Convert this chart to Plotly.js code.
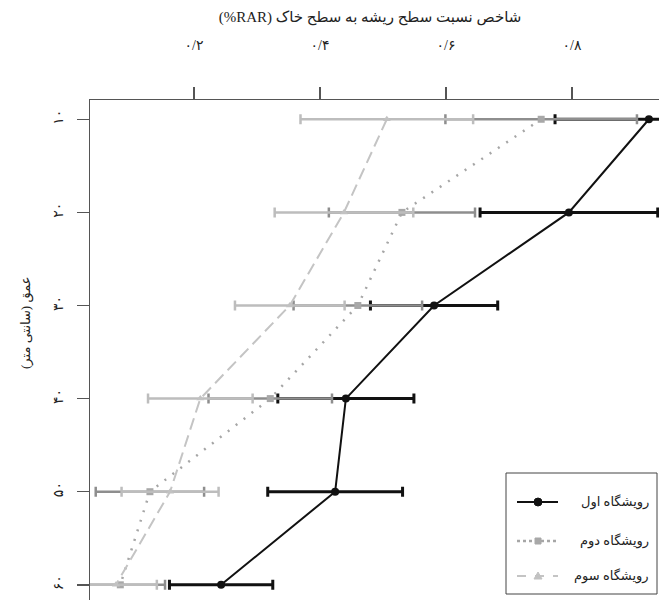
<!DOCTYPE html>
<html>
<head>
<meta charset="utf-8">
<script src="https://cdn.plot.ly/plotly-3.0.1.min.js"></script>
<style>html,body{margin:0;padding:0;background:#fff;overflow:hidden}</style>
</head>
<body>
<div id="chart" style="width:659px;height:600px"></div>
<script>
// depth (cm) and RAR values
const depths = [10, 20, 30, 40, 50, 60];
const depthLabels = ['۱۰', '۲۰', '۳۰', '۴۰', '۵۰', '۶۰'];
const xTicks = [0.2, 0.4, 0.6, 0.8];
const xTickLabels = ['۰/۲', '۰/۴', '۰/۶', '۰/۸'];
const siteNames = ['رویشگاه اول', 'رویشگاه دوم', 'رویشگاه سوم'];

const site1 = [0.922, 0.795, 0.581, 0.441, 0.424, 0.243];
const site1Err = [0.149, 0.141, 0.101, 0.108, 0.107, 0.082];
const site2 = [0.751, 0.530, 0.460, 0.321, 0.130, 0.083];
const site2Err = [0.152, 0.116, 0.102, 0.098, 0.086, 0.071];
const site3 = [0.506, 0.438, 0.352, 0.210, 0.162, 0.076];
const site3Err = [0.137, 0.110, 0.087, 0.083, 0.077, 0.065];

const FONT = 'Liberation Serif, DejaVu Sans, serif';
const W = 659, H = 600, L = 90, T = 100;
// pixel -> paper helpers (legend box and y title only)
const px = x => (x - L) / (W - L);
const py = y => 1 - (y - T) / (H - T);

const traces = [
  { x: site1, y: depths, name: siteNames[0], mode: 'lines+markers',
    line: {color: '#111', width: 2}, marker: {symbol: 'circle', size: 8, color: '#111'},
    error_x: {type: 'data', array: site1Err, visible: true, color: '#111', thickness: 3, width: 5} },
  { x: site2, y: depths, name: siteNames[1], mode: 'lines+markers',
    line: {color: '#a6a6a6', width: 2.5, dash: '2px,8px'}, marker: {symbol: 'square', size: 7, color: '#a8a8a8'},
    error_x: {type: 'data', array: site2Err, visible: true, color: '#8e8e8e', thickness: 2.5, width: 5} },
  { x: site3, y: depths, name: siteNames[2], mode: 'lines+markers',
    line: {color: '#c4c4c4', width: 2, dash: '12px,6px'}, marker: {symbol: 'triangle-up', size: 7, color: '#c2c2c2'},
    error_x: {type: 'data', array: site3Err, visible: true, color: '#bdbdbd', thickness: 2.5, width: 5} }
];

// hand-made right-to-left legend
const rows = [502, 541, 576];
const shapes = [
  {type: 'rect', xref: 'paper', yref: 'paper', x0: px(506), x1: px(657), y0: py(594), y1: py(473),
   line: {color: '#444', width: 1}, fillcolor: '#fff'}
];
const annotations = [
  {xref: 'paper', yref: 'paper', x: px(26), y: py(323), textangle: -90, xanchor: 'center', yanchor: 'middle',
   showarrow: false, text: '\u202Bعمق (سانتی متر)\u202C', font: {family: FONT, size: 13, color: '#222'}}
];
const legStyles = [
  {color: '#111', width: 2, dash: 'solid'},
  {color: '#a6a6a6', width: 2.5, dash: 'dot'},
  {color: '#c4c4c4', width: 2, dash: 'dash'}
];
rows.forEach((ry, i) => {
  shapes.push({type: 'line', xref: 'paper', yref: 'paper', x0: px(517), x1: px(558), y0: py(ry), y1: py(ry), line: legStyles[i]});
  annotations.push({xref: 'paper', yref: 'paper', x: px(651), y: py(ry), xanchor: 'right', yanchor: 'middle',
    showarrow: false, text: siteNames[i], font: {family: FONT, size: 13, color: '#222'}});
});
shapes.push({type: 'circle', xref: 'paper', yref: 'paper', x0: px(534), x1: px(542), y0: py(rows[0] + 4), y1: py(rows[0] - 4),
  fillcolor: '#111', line: {color: '#111', width: 1}});
shapes.push({type: 'rect', xref: 'paper', yref: 'paper', x0: px(535), x1: px(541), y0: py(rows[1] + 3), y1: py(rows[1] - 3),
  fillcolor: '#a8a8a8', line: {color: '#a8a8a8', width: 1}});
shapes.push({type: 'path', xref: 'paper', yref: 'paper',
  path: `M ${px(534)},${py(rows[2] + 3)} L ${px(542)},${py(rows[2] + 3)} L ${px(538)},${py(rows[2] - 4)} Z`,
  fillcolor: '#c2c2c2', line: {color: '#c2c2c2', width: 1}});

const layout = {
  width: W, height: H,
  margin: {l: L, r: 0, t: T, b: 0},
  paper_bgcolor: '#fff', plot_bgcolor: '#fff',
  showlegend: false,
  font: {family: FONT, size: 14, color: '#222'},
  title: {text: '\u202Bشاخص نسبت سطح ریشه به سطح خاک (RAR%)\u202C', x: 370 / W, xref: 'container', xanchor: 'center',
          y: 1 - 17 / H, yref: 'container', yanchor: 'middle', font: {family: FONT, size: 15, color: '#222'}},
  xaxis: {side: 'top', range: [0.0349, 0.938], tickvals: xTicks, ticktext: xTickLabels,
          showgrid: false, zeroline: false, showline: true, linecolor: '#555', linewidth: 1.5,
          ticks: 'outside', ticklen: 12, tickcolor: '#555', tickwidth: 1.5, ticklabelstandoff: 31,
          tickfont: {family: FONT, size: 14, color: '#222'}},
  yaxis: {range: [61.63, 7.93], tickvals: depths, ticktext: depthLabels, tickangle: -90,
          showgrid: false, zeroline: false, showline: true, linecolor: '#555', linewidth: 1.5,
          ticks: 'outside', ticklen: 12, tickcolor: '#555', tickwidth: 1.5, ticklabelstandoff: 8,
          tickfont: {family: FONT, size: 14, color: '#222'}},
  shapes: shapes,
  annotations: annotations
};

Plotly.newPlot('chart', traces, layout, {displayModeBar: false, staticPlot: true});
</script>
</body>
</html>
